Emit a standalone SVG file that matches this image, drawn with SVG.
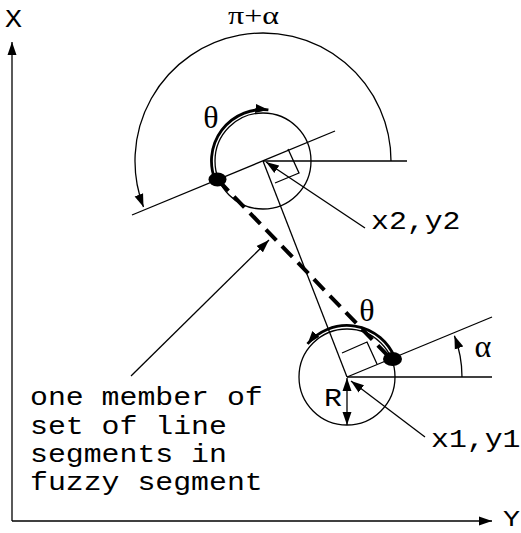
<svg xmlns="http://www.w3.org/2000/svg" width="521" height="533" viewBox="0 0 521 533">
<style>
.ln{fill:none;stroke:#000;stroke-width:1.3}
.thk{fill:none;stroke:#000;stroke-width:2.8}
.dash{fill:none;stroke:#000;stroke-width:4;stroke-dasharray:15 8}
.mono{font-family:"Liberation Mono","Courier New",monospace;font-size:25px;fill:#000}
.grk{font-family:"Liberation Serif","Times New Roman",serif;font-size:32px;fill:#000}
</style>
<defs>
<marker id="ah" markerUnits="userSpaceOnUse" markerWidth="14" markerHeight="10" refX="13" refY="5" orient="auto">
<path d="M0,0.5 L13,5 L0,9.5 Z" fill="#000"/>
</marker>
<marker id="ahs" markerUnits="userSpaceOnUse" markerWidth="14" markerHeight="10" refX="13" refY="5" orient="auto-start-reverse">
<path d="M0,0.5 L13,5 L0,9.5 Z" fill="#000"/>
</marker>
</defs>
<rect width="521" height="533" fill="#fff"/>
<g id="axes">
<path class="ln" d="M12,521 L12,42" marker-end="url(#ah)"/>
<path class="ln" d="M12,521 L492,521" marker-end="url(#ah)"/>
<text class="mono" x="5" y="27" textLength="17" lengthAdjust="spacingAndGlyphs">X</text>
<text class="mono" x="503" y="526" style="font-size:22px" textLength="17" lengthAdjust="spacingAndGlyphs">Y</text>
</g>
<g id="upper-circle">
<circle class="ln" cx="263" cy="161" r="48"/>
<path class="ln" d="M132,215 L335,131"/>
<path class="ln" d="M263,161 L407,161"/>
<polyline class="ln" points="288,149 299,173 275,183"/>
<ellipse cx="217.5" cy="179.5" rx="9" ry="7" fill="#000"/>
</g>
<g id="lower-circle">
<circle class="ln" cx="347" cy="377" r="48"/>
<path class="ln" d="M347,377 L492,317"/>
<path class="ln" d="M347,377 L492,377"/>
<polyline class="ln" points="342,353 367,342 377,364"/>
<ellipse cx="392.5" cy="359" rx="9.5" ry="7" fill="#000"/>
</g>
<g id="connectors">
<path class="ln" d="M263,161 L347,377"/>
<path class="dash" d="M218,180 L391,359"/>
<path class="ln" d="M391,161 A128,128 0 1 0 143.5,206.9" marker-end="url(#ah)"/>
<path class="ln" d="M462,377 A115,115 0 0 0 454.4,335.8" marker-end="url(#ah)"/>
<path class="thk" d="M215.4,180.7 A51.5,51.5 0 0 1 268.4,109.8" marker-end="url(#ah)"/>
<path class="thk" d="M394.6,357.3 A51.5,51.5 0 0 0 307.5,343.9" marker-end="url(#ah)"/>
<path class="ln" d="M347,378 L347,425" marker-start="url(#ahs)" marker-end="url(#ah)"/>
<path class="ln" d="M365,228 L266,162" marker-end="url(#ah)"/>
<path class="ln" d="M425,437 L351,381" marker-end="url(#ah)"/>
<path class="ln" d="M131,376 L269,240" marker-end="url(#ah)"/>
</g>
<g id="labels">
<text class="grk" x="228" y="23.5" style="font-size:26px" textLength="51" lengthAdjust="spacingAndGlyphs">π+α</text>
<text class="grk" x="211" y="128" text-anchor="middle">θ</text>
<text class="grk" x="367" y="321" text-anchor="middle">θ</text>
<text class="grk" x="483" y="357" text-anchor="middle">α</text>
<text class="mono" x="324" y="406" textLength="18" lengthAdjust="spacingAndGlyphs">R</text>
<text class="mono" x="371" y="229" textLength="89.5" lengthAdjust="spacingAndGlyphs">x2,y2</text>
<text class="mono" x="431" y="447" textLength="89.5" lengthAdjust="spacingAndGlyphs">x1,y1</text>
<text class="mono" x="30" y="405" textLength="232.7" lengthAdjust="spacingAndGlyphs">one member of</text>
<text class="mono" x="30" y="433.5" textLength="196.9" lengthAdjust="spacingAndGlyphs">set of line</text>
<text class="mono" x="30" y="462" textLength="196.9" lengthAdjust="spacingAndGlyphs">segments in</text>
<text class="mono" x="30" y="490" textLength="232.7" lengthAdjust="spacingAndGlyphs">fuzzy segment</text>
</g>
</svg>
